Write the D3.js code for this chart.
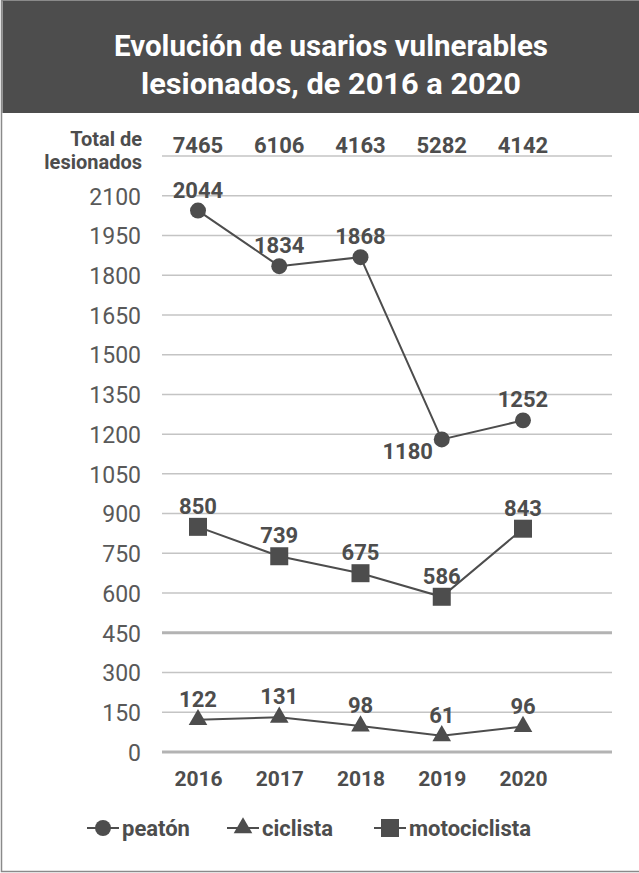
<!DOCTYPE html>
<html>
<head>
<meta charset="utf-8">
<script src="https://cdn.jsdelivr.net/npm/d3@7"></script>
<style>
  html, body { margin: 0; padding: 0; background: #fff; }
  svg { display: block; }
</style>
</head>
<body>
<svg id="chart" width="639" height="873"></svg>
<script>
(function () {
  'use strict';

  const YEARS = ['2016', '2017', '2018', '2019', '2020'];
  const TOTALS = [7465, 6106, 4163, 5282, 4142];
  const PEATON = [2044, 1834, 1868, 1180, 1252];
  const CICLISTA = [122, 131, 98, 61, 96];
  const MOTOCICLISTA = [850, 739, 675, 586, 843];
  const Y_TICKS = [0, 150, 300, 450, 600, 750, 900, 1050, 1200, 1350, 1500, 1650, 1800, 1950, 2100];
  const TITLE = ['Evolución de usarios vulnerables', 'lesionados, de 2016 a 2020'];
  const TOTAL_LABEL = ['Total de', 'lesionados'];

  const SERIES = [
    { name: 'peatón', values: PEATON, symbol: d3.symbolCircle, size: 200 },
    { name: 'ciclista', values: CICLISTA, symbol: d3.symbolTriangle, size: 150 },
    { name: 'motociclista', values: MOTOCICLISTA, symbol: d3.symbolSquare, size: 324 },
  ];

  const DARK = '#4d4d4d';
  const FONT = 'Roboto, "Open Sans", sans-serif';

  const svg = d3.select('#chart');

  // frame + title band
  svg.append('rect').attr('x', 1.5).attr('y', 0.5).attr('width', 640).attr('height', 871)
    .attr('fill', '#fff').attr('stroke', '#8a8a8a').attr('stroke-width', 1.5);
  svg.append('rect').attr('x', 2.5).attr('y', 1).attr('width', 637).attr('height', 112).attr('fill', DARK);
  TITLE.forEach((line, i) => {
    svg.append('text').attr('x', 331).attr('y', 56 + i * 38)
      .attr('text-anchor', 'middle').attr('fill', '#fff')
      .style('font-family', FONT).style('font-weight', 700).style('font-size', '29px')
      .attr('textLength', i === 0 ? 434 : 380).attr('lengthAdjust', 'spacingAndGlyphs')
      .text(line);
  });

  const x = d3.scalePoint().domain(YEARS).range([198, 523]);
  const y = d3.scaleLinear().domain([0, 2250]).range([752, 156]);
  const gridX = [162, 612];

  // gridlines
  const g = svg.append('g');
  g.selectAll('line.grid').data(Y_TICKS.concat([2250])).enter().append('line')
    .attr('x1', gridX[0]).attr('x2', gridX[1])
    .attr('y1', (d) => y(d)).attr('y2', (d) => y(d))
    .attr('stroke', (d) => (d === 0 || d === 450) ? '#b3b3b3' : '#c4c4c4')
    .attr('stroke-width', (d) => (d === 0 || d === 450) ? 3 : 1.5);

  // y axis labels
  const yAxis = d3.axisLeft(y).tickValues(Y_TICKS).tickFormat(d3.format('d')).tickSize(0).tickPadding(0);
  const ya = svg.append('g').attr('transform', 'translate(141,0)').call(yAxis);
  ya.select('.domain').remove();
  ya.selectAll('text').attr('dy', '0.36em')
    .style('font-family', FONT).style('font-size', '23px').style('fill', '#595959');

  // x axis labels
  const xAxis = d3.axisBottom(x).tickSize(0).tickPadding(0);
  const xa = svg.append('g').attr('transform', 'translate(0,771)').call(xAxis);
  xa.select('.domain').remove();
  xa.selectAll('text').attr('dy', '0.71em')
    .style('font-family', FONT).style('font-size', '21px').style('font-weight', 700).style('fill', DARK);

  // totals row
  TOTAL_LABEL.forEach((t, i) => {
    svg.append('text').attr('x', 142).attr('y', 146 + i * 23).attr('text-anchor', 'end')
      .style('font-family', FONT).style('font-weight', 700).style('font-size', '20px').style('fill', DARK)
      .text(t);
  });
  svg.selectAll('text.total').data(TOTALS).enter().append('text').attr('class', 'total')
    .attr('x', (_, i) => x(YEARS[i])).attr('y', 153).attr('text-anchor', 'middle')
    .style('font-family', FONT).style('font-weight', 700).style('font-size', '22px').style('fill', DARK)
    .text((d) => d);

  // series
  const line = d3.line().x((_, i) => x(YEARS[i])).y((d) => y(d));
  SERIES.forEach((s) => {
    svg.append('path').datum(s.values).attr('d', line)
      .attr('fill', 'none').attr('stroke', DARK).attr('stroke-width', 2);
    svg.selectAll(null).data(s.values).enter().append('path')
      .attr('d', d3.symbol().type(s.symbol).size(s.size))
      .attr('transform', (d, i) => `translate(${x(YEARS[i])},${y(d)})`)
      .attr('fill', DARK);
    svg.selectAll(null).data(s.values).enter().append('text')
      .attr('x', (d, i) => {
        // the 2019 peatón label sits to the left of its marker
        if (s.values === PEATON && i === 3) return x(YEARS[i]) - 34;
        return x(YEARS[i]);
      })
      .attr('y', (d, i) => {
        if (s.values === PEATON && i === 3) return y(d) + 20;
        return y(d) - 13;
      })
      .attr('text-anchor', 'middle')
      .style('font-family', FONT).style('font-weight', 700).style('font-size', '22px').style('fill', DARK)
      .text((d) => d);
  });

  // legend
  const LEG_X = [103, 243, 390];
  const leg = svg.append('g').attr('transform', 'translate(0,828)');
  SERIES.forEach((s, i) => {
    const cx = LEG_X[i];
    leg.append('line').attr('x1', cx - 16).attr('x2', cx + 16).attr('y1', 0).attr('y2', 0)
      .attr('stroke', DARK).attr('stroke-width', 2);
    leg.append('path').attr('d', d3.symbol().type(s.symbol).size(s.size))
      .attr('transform', `translate(${cx},0)`).attr('fill', DARK);
    leg.append('text').attr('x', cx + 19).attr('y', 0).attr('dy', '0.35em')
      .style('font-family', FONT).style('font-weight', 700).style('font-size', '22px').style('fill', DARK)
      .text(s.name);
  });
})();
</script>
</body>
</html>
